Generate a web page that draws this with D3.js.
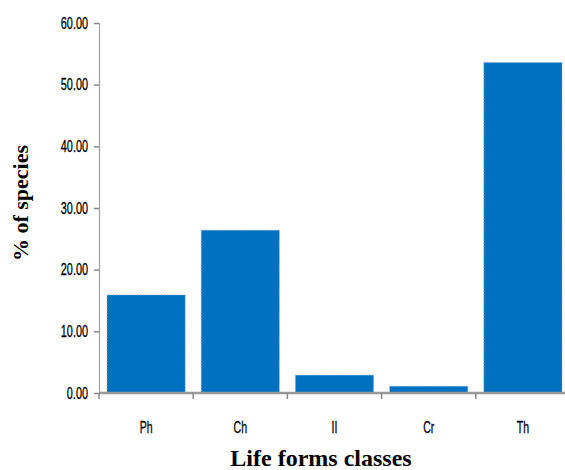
<!DOCTYPE html>
<html>
<head>
<meta charset="utf-8">
<script src="https://cdn.jsdelivr.net/npm/d3@7"></script>
<style>
  body { margin: 0; background: #fff; }
</style>
</head>
<body>
<div id="chart"></div>
<script>
// Life form classes and share of species (%)
const classes = ["Ph", "Ch", "II", "Cr", "Th"];
const percents = [15.9, 26.4, 2.9, 1.1, 53.6];
const yTicks = [0, 10, 20, 30, 40, 50, 60];

const width = 565;
const height = 470;
const margin = { top: 23, right: -5, bottom: 77, left: 99 };
const narrowFont = "'Liberation Sans', Arial, sans-serif";

const svg = d3.select("#chart")
  .append("svg")
  .attr("width", width)
  .attr("height", height);

const x = d3.scaleBand()
  .domain(classes)
  .range([margin.left, width - margin.right])
  .paddingInner(0.17)
  .paddingOuter(0.085);

const y = d3.scaleLinear()
  .domain([0, 60])
  .range([height - margin.bottom, margin.top]);

// Bars
svg.selectAll("rect.bar")
  .data(classes)
  .enter()
  .append("rect")
  .attr("class", "bar")
  .attr("x", d => x(d))
  .attr("y", (d, i) => y(percents[i]))
  .attr("width", x.bandwidth())
  .attr("height", (d, i) => y(0) - y(percents[i]))
  .attr("fill", "#0070c0")
  .attr("stroke", "#8db7e0")
  .attr("stroke-width", 0.8)
  .attr("stroke-dasharray", "1.5,1.5");

// Y axis (labels squeezed to look like the condensed original)
const yAxis = svg.append("g")
  .attr("transform", `translate(${margin.left},0)`)
  .call(d3.axisLeft(y).tickValues(yTicks).tickFormat("").tickSize(5));
yAxis.select(".domain").attr("stroke", "#a0a0a0").attr("stroke-width", 1.2);
yAxis.selectAll(".tick line").attr("stroke", "#888").attr("stroke-width", 1.5);

svg.append("g")
  .selectAll("text")
  .data(yTicks)
  .enter()
  .append("text")
  .attr("transform", d => `translate(${margin.left - 11},${y(d) + 5.5}) scale(0.68,1)`)
  .attr("text-anchor", "end")
  .style("font-family", narrowFont)
  .style("font-size", "16px")
  .style("stroke", "#000")
  .style("stroke-width", 0.3)
  .text(d4 => d3.format(".2f")(d4));

// X axis: ticks at band boundaries
const xAxis = svg.append("g")
  .attr("transform", `translate(0,${y(0)})`);
xAxis.append("line")
  .attr("x1", margin.left)
  .attr("x2", width)
  .attr("stroke", "#999")
  .attr("stroke-width", 2.5);
const step = x.step();
xAxis.selectAll("line.sep")
  .data(classes)
  .enter()
  .append("line")
  .attr("class", "sep")
  .attr("x1", d => x(d) - step * 0.085)
  .attr("x2", d => x(d) - step * 0.085)
  .attr("y1", 0)
  .attr("y2", 6)
  .attr("stroke", "#888")
  .attr("stroke-width", 1.5);
xAxis.selectAll("text")
  .data(classes)
  .enter()
  .append("text")
  .attr("transform", d => `translate(${x(d) + x.bandwidth() / 2},40) scale(0.62,1)`)
  .attr("text-anchor", "middle")
  .style("font-family", narrowFont)
  .style("font-size", "17px")
  .style("stroke", "#000")
  .style("stroke-width", 0.3)
  .text(d => d);

// Axis titles
svg.append("text")
  .attr("transform", "translate(28,203) rotate(-90)")
  .attr("text-anchor", "middle")
  .style("font-family", "'Liberation Serif', serif")
  .style("font-weight", "bold")
  .style("font-size", "22px")
  .text("% of species");

svg.append("text")
  .attr("x", 321)
  .attr("y", 466)
  .attr("text-anchor", "middle")
  .style("font-family", "'Liberation Serif', serif")
  .style("font-weight", "bold")
  .style("font-size", "24px")
  .text("Life forms classes");
</script>
</body>
</html>
